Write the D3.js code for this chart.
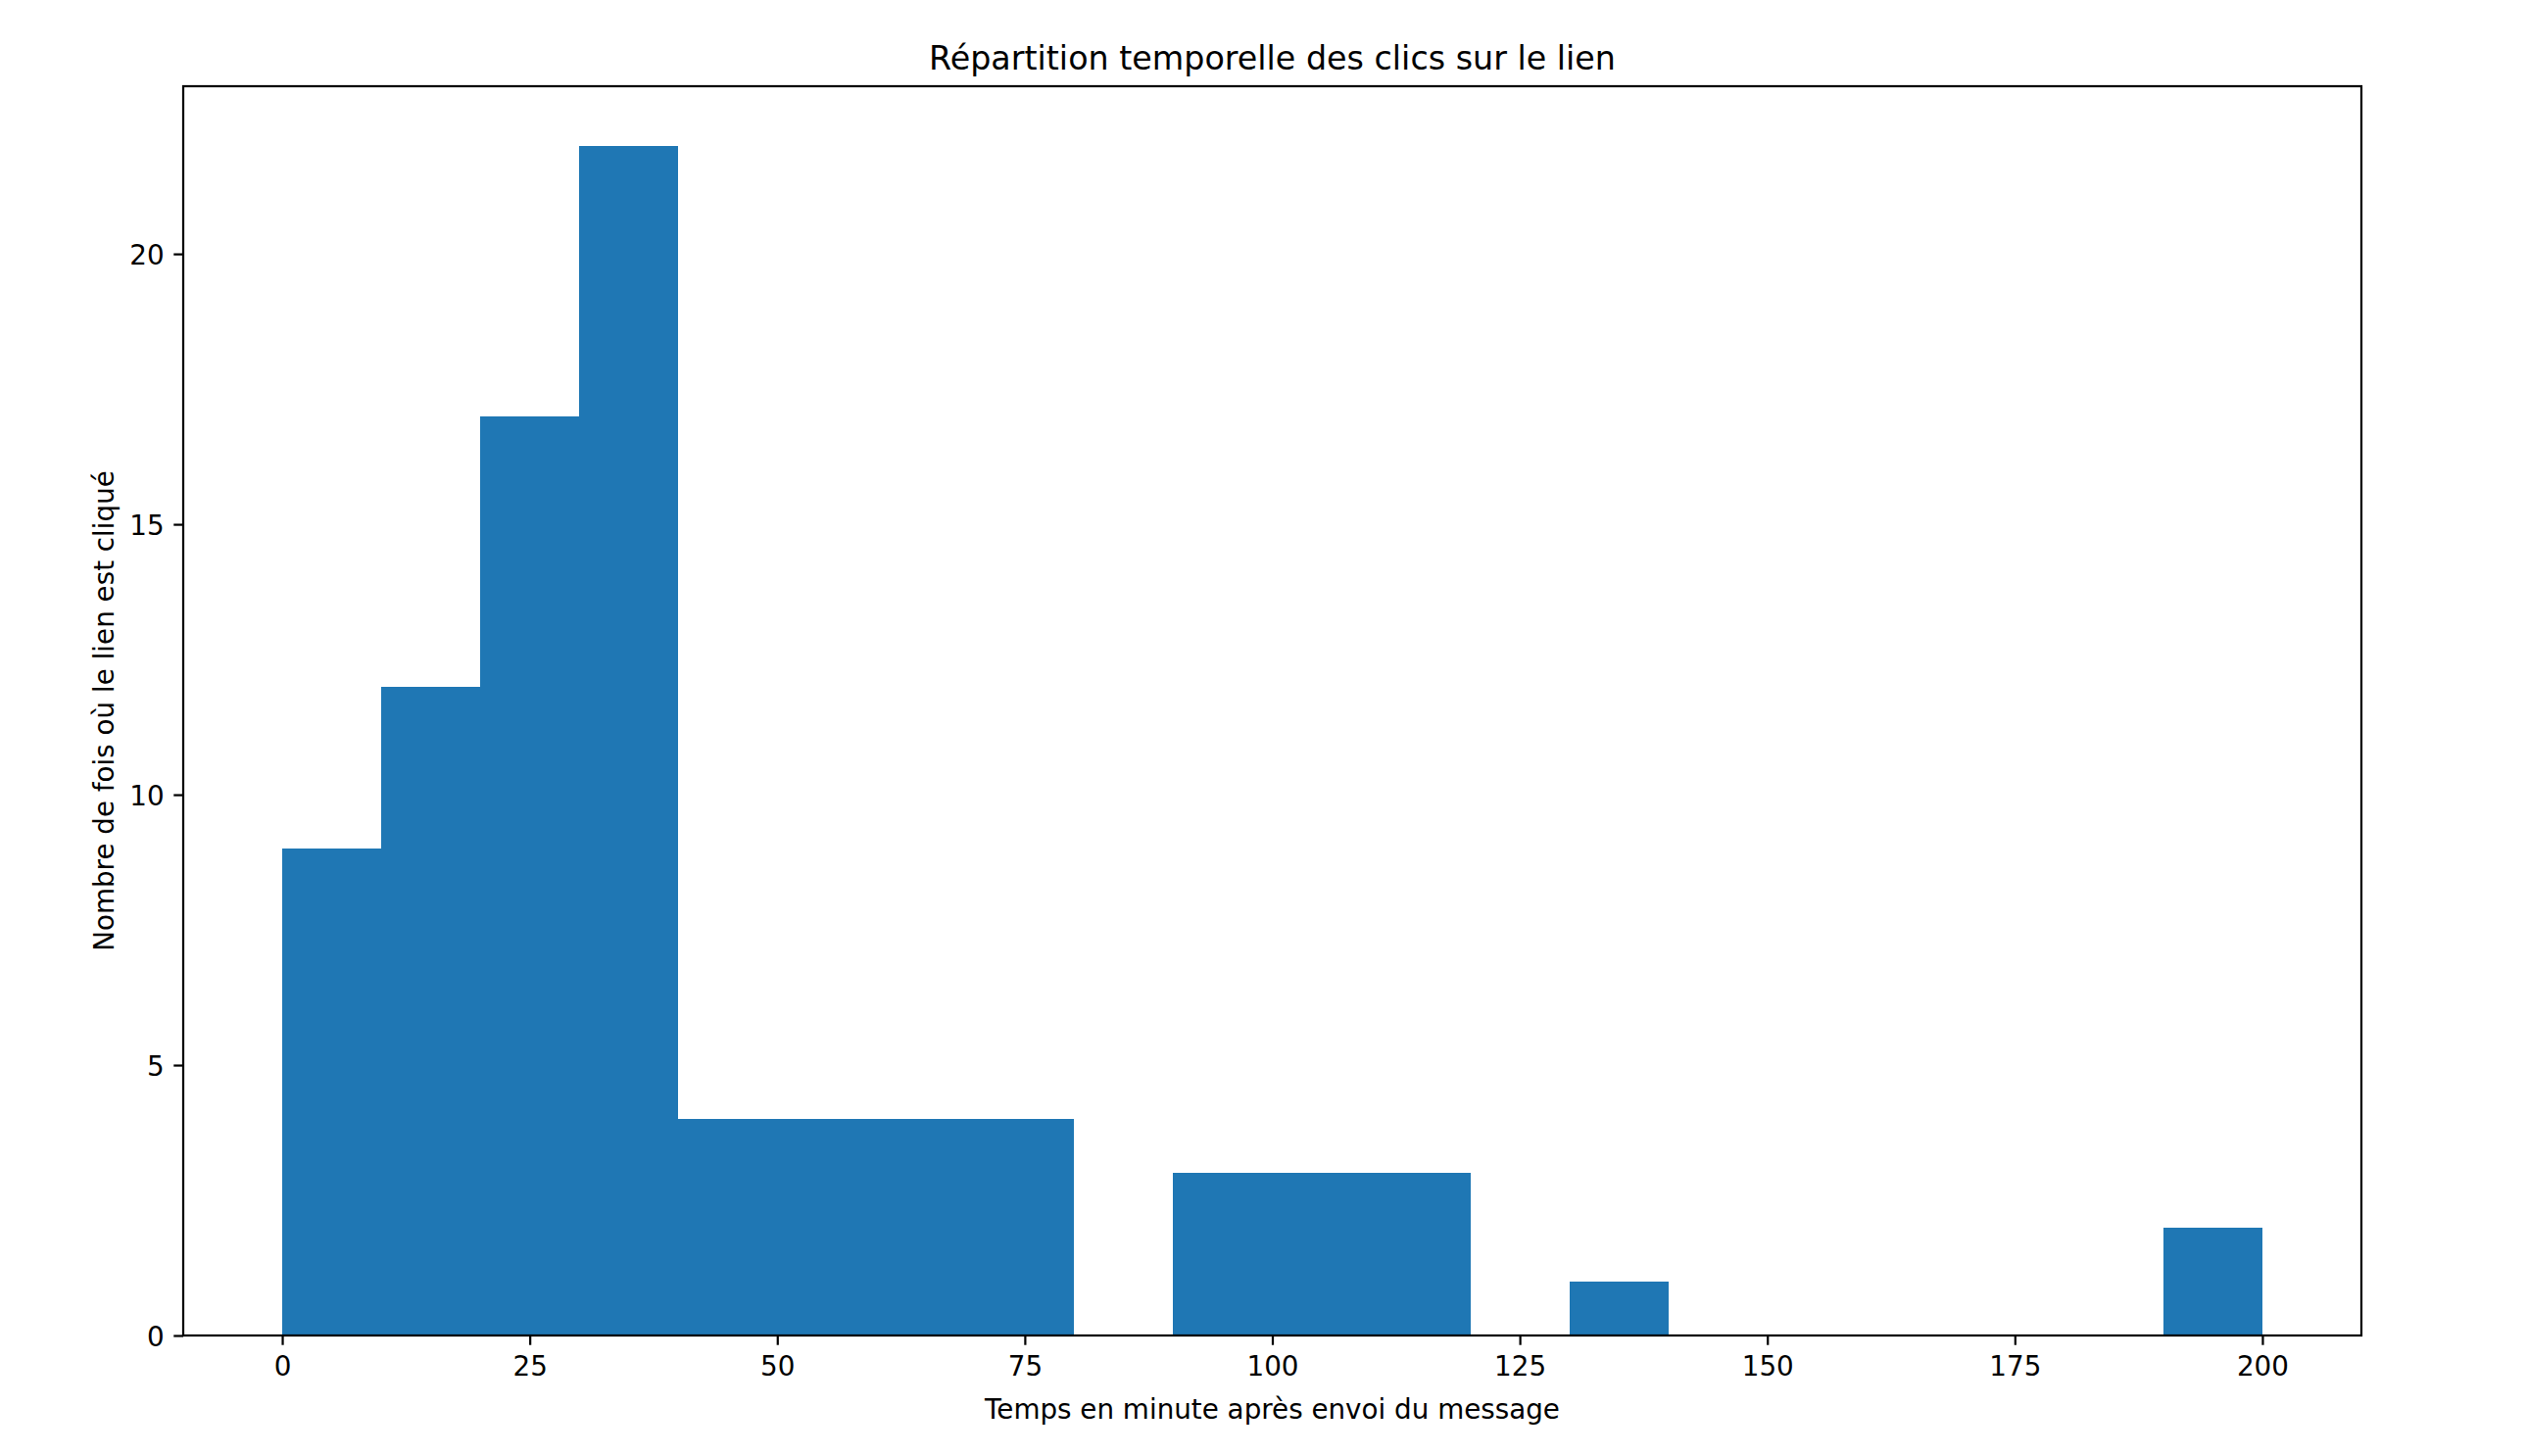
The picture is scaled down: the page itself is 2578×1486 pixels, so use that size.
<!DOCTYPE html>
<html>
<head>
<meta charset="utf-8">
<script src="https://cdn.jsdelivr.net/npm/d3@7"></script>
<style>
  html, body { margin: 0; padding: 0; background: #fff; }
  svg { display: block; }
  text { font-family: "DejaVu Sans", sans-serif; fill: #000; }
</style>
</head>
<body>
<svg id="chart" width="2578" height="1486"></svg>
<script>
// histogram data
var binEdges = [0, 10, 20, 30, 40, 50, 60, 70, 80, 90, 100, 110, 120, 130, 140, 150, 160, 170, 180, 190, 200];
var counts = [9, 12, 17, 22, 4, 4, 4, 4, 0, 3, 3, 3, 0, 1, 0, 0, 0, 0, 0, 2];
var xTicks = [0, 25, 50, 75, 100, 125, 150, 175, 200];
var yTicks = [0, 5, 10, 15, 20];
var title = "Répartition temporelle des clics sur le lien";
var xLabel = "Temps en minute après envoi du message";
var yLabel = "Nombre de fois où le lien est cliqué";

var pt = 2.778; // px per point
var margin = {top: 88, right: 168, bottom: 123, left: 187};
var W = 2578, H = 1486;
var w = W - margin.left - margin.right;
var h = H - margin.top - margin.bottom;

var bins = counts.map(function(c, i) {
    return {x0: binEdges[i], x1: binEdges[i + 1], n: c};
});

var x = d3.scaleLinear().domain([-10, 210]).range([0, w]);
var y = d3.scaleLinear().domain([0, 23.1]).range([h, 0]);

var svg = d3.select("#chart");
var g = svg.append("g").attr("transform", "translate(" + margin.left + "," + margin.top + ")");

g.selectAll("rect.bar")
    .data(bins.filter(function(d) { return d.n > 0; }))
    .enter()
    .append("rect")
    .attr("class", "bar")
    .attr("x", function(d) { return x(d.x0); })
    .attr("width", function(d) { return x(d.x1) - x(d.x0); })
    .attr("y", function(d) { return y(d.n); })
    .attr("height", function(d) { return y(0) - y(d.n); })
    .style("fill", "#1f77b4")
    .attr("shape-rendering", "crispEdges");

var fontPx = 10 * pt;

var xAxis = g.append("g")
    .attr("transform", "translate(0," + h + ")")
    .call(d3.axisBottom(x).tickValues(xTicks).tickFormat(d3.format("d"))
        .tickSize(3.5 * pt).tickPadding(3.5 * pt).tickSizeOuter(0));

var yAxis = g.append("g")
    .call(d3.axisLeft(y).tickValues(yTicks).tickFormat(d3.format("d"))
        .tickSize(3.5 * pt).tickPadding(3.5 * pt).tickSizeOuter(0));

[xAxis, yAxis].forEach(function(a) {
    a.select(".domain").remove();
    a.selectAll(".tick line").attr("stroke", "#000").attr("stroke-width", 0.8 * pt);
    a.selectAll(".tick text")
        .style("font-family", "'DejaVu Sans', sans-serif")
        .style("font-size", fontPx + "px")
        .attr("fill", "#000");
});
xAxis.selectAll(".tick text").attr("dy", null).attr("y", 3.5 * pt * 2 + 0.76 * fontPx);
yAxis.selectAll(".tick text").attr("dy", "0.36em");

// spines
g.append("rect")
    .attr("x", 0).attr("y", 0)
    .attr("width", w).attr("height", h)
    .attr("fill", "none")
    .attr("stroke", "#000")
    .attr("stroke-width", 0.8 * pt);

svg.append("text")
    .attr("x", margin.left + w / 2)
    .attr("y", margin.top - 6 * pt)
    .attr("text-anchor", "middle")
    .style("font-size", (12 * pt) + "px")
    .text(title);

svg.append("text")
    .attr("x", margin.left + w / 2)
    .attr("y", 1448)
    .attr("text-anchor", "middle")
    .style("font-size", fontPx + "px")
    .text(xLabel);

svg.append("text")
    .attr("transform", "translate(116," + (margin.top + h / 2) + ") rotate(-90)")
    .attr("text-anchor", "middle")
    .style("font-size", fontPx + "px")
    .text(yLabel);
</script>
</body>
</html>
